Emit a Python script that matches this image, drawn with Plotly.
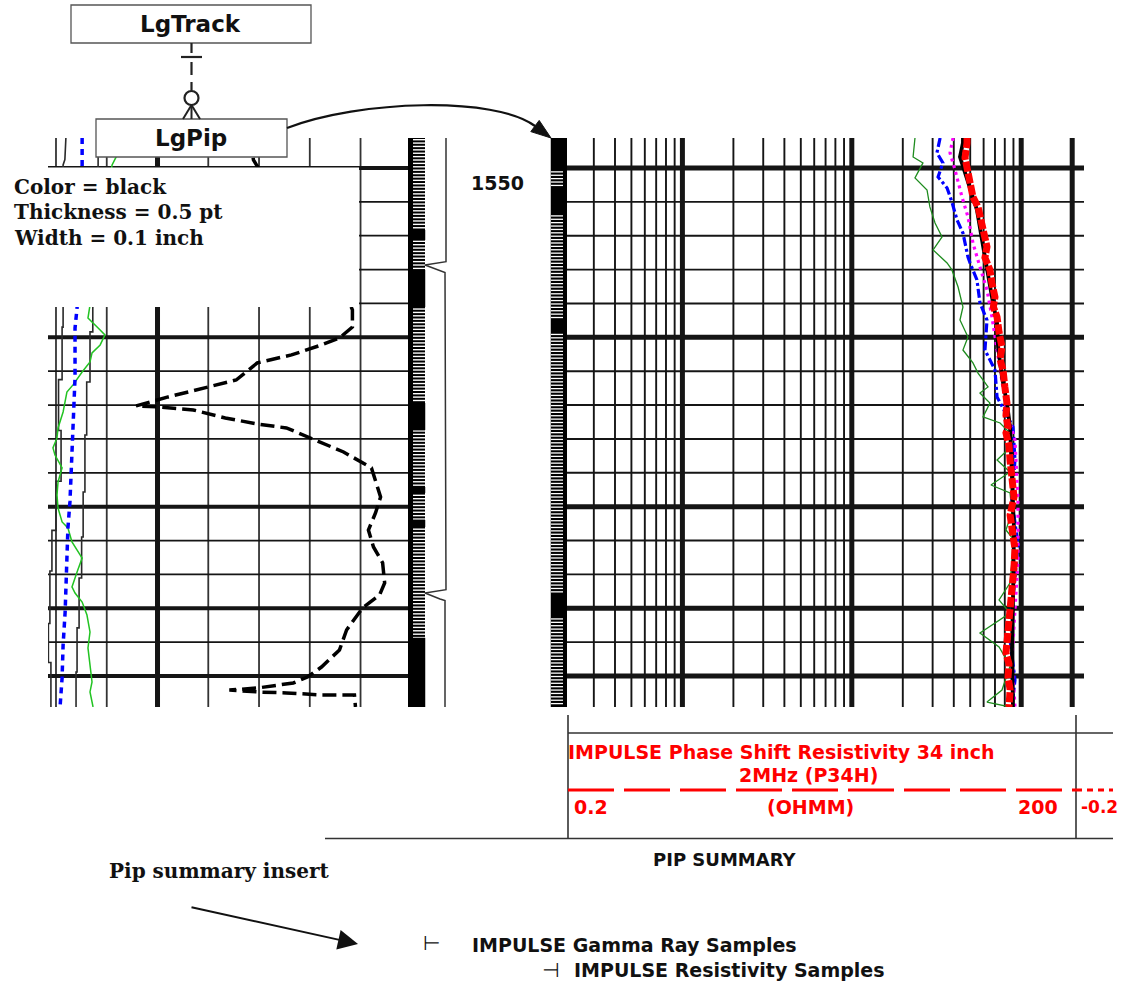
import numpy as np
import plotly.graph_objects as go

W, H = 1123, 993

# ---------------- data ----------------
DEPTH_TOP = 1548.23
DEPTH_BOT = 1581.83
DEPTH_GRID_MINOR = [1552, 1554, 1556, 1558, 1562, 1564, 1566, 1568, 1572, 1574, 1578]
DEPTH_GRID_MAJOR = [1550, 1560, 1570, 1576, 1580]
DEPTH_LABELS = [1550]

GR_GRID_MINOR = [20, 40, 80, 100, 120, 140]
GR_GRID_MAJOR = [60]
RES_GRID_MINOR = [0.3, 0.4, 0.5, 0.6, 0.7, 0.8, 0.9, 2, 3, 4, 5, 6, 7, 8, 9,
                  20, 30, 40, 50, 60, 70, 80, 90]
RES_GRID_MAJOR = [1, 10, 100, 200]

# track 1 (linear) curves
gr_dash_depth = [1548.23, 1549.53, 1553.0, 1556.0, 1558.38, 1559.39, 1560.04, 1560.45, 1561.04, 1561.51,
                 1562.52, 1562.93, 1563.52, 1563.82, 1564.05, 1564.11, 1564.29, 1564.76, 1565.12, 1565.35,
                 1566.06, 1566.77, 1567.71, 1568.42, 1569.43, 1570.37, 1571.38, 1572.38, 1573.32, 1574.51,
                 1575.21, 1575.98, 1577.28, 1578.46, 1579.47, 1580.06, 1580.41, 1580.71, 1580.83, 1580.95,
                 1581.00, 1581.12, 1581.12, 1581.83]
gr_dash_val = [96.6, 97.8, 112.0, 130.0, 136.8, 136.8, 131.7, 124.6, 112.8, 99.3,
               91.0, 79.6, 64.2, 57.1, 51.6, 59.9, 74.1, 86.7, 99.3, 110.8,
               121.8, 133.3, 144.3, 145.9, 147.9, 145.9, 143.1, 145.1, 148.7, 149.5,
               147.5, 140.8, 134.5, 131.7, 124.6, 119.1, 113.5, 99.3, 88.3, 100.5,
               110.8, 124.6, 137.6, 138.0]

gr_green_depth = [1548.23, 1549.23, 1549.82, 1558.27, 1558.86, 1559.39, 1559.86, 1560.45, 1560.92, 1561.46,
                  1562.05, 1562.81, 1563.23, 1564.41, 1565.35, 1565.94, 1566.53, 1566.95, 1567.71, 1568.54,
                  1569.31, 1570.08, 1570.90, 1571.26, 1572.08, 1572.85, 1573.03, 1573.86, 1574.74, 1575.10,
                  1575.63, 1576.40, 1577.40, 1578.34, 1579.35, 1580.35, 1580.94, 1581.83]
gr_green_val = [44.5, 44.1, 42.1, 33.4, 32.6, 36.2, 39.3, 37.4, 34.2, 33.4,
                30.3, 26.7, 24.3, 22.8, 20.8, 20.4, 18.8, 19.6, 22.4, 20.8,
                20.4, 20.8, 22.4, 24.7, 26.3, 29.5, 30.3, 28.3, 26.3, 27.5,
                30.3, 32.2, 33.4, 32.6, 33.4, 34.2, 33.4, 34.6]

gr_blue_depth = [1548.23, 1549.82, 1558.27, 1559.45, 1562.40, 1565.35, 1567.36, 1569.72, 1571.26, 1573.27,
                 1576.22, 1578.17, 1580.12, 1581.83]
gr_blue_val = [30.3, 30.3, 28.3, 27.5, 27.5, 26.7, 26.3, 25.5, 24.7, 24.3, 23.6, 22.8, 22.4, 21.6]

cal_a_depth = [1548.23, 1549.50, 1549.82, 1559.40, 1559.40, 1562.50, 1562.50, 1565.50, 1565.50, 1568.50,
               1568.50, 1571.40, 1571.40, 1573.80, 1573.80, 1576.90, 1576.90, 1579.20, 1579.20, 1581.83]
cal_a_val = [23.9, 23.5, 22.8, 22.8, 22.4, 22.4, 21.0, 21.0, 22.0, 22.0,
             20.0, 20.0, 18.4, 18.4, 17.6, 17.6, 17.0, 17.0, 18.0, 18.0]

cal_b_depth = [1548.23, 1549.82, 1558.33, 1559.68, 1559.68, 1562.64, 1562.64, 1565.77, 1565.77, 1569.13,
               1569.13, 1571.79, 1571.79, 1574.21, 1574.21, 1577.16, 1577.16, 1579.76, 1579.76, 1581.83]
cal_b_val = [36.6, 36.6, 34.5, 34.5, 33.4, 33.4, 32.1, 32.1, 31.4, 31.4,
             30.7, 30.7, 30.1, 30.1, 29.1, 29.1, 28.3, 28.3, 27.9, 27.9]

# track 2 (log resistivity, ohmm) curves
green_r_depth = [1548.23, 1549.35, 1549.70, 1550.59, 1551.30, 1552.30, 1553.25, 1554.07, 1554.84, 1555.61,
                 1556.02, 1557.03, 1558.21, 1558.98, 1559.98, 1560.75, 1561.51, 1562.11, 1562.93, 1563.29,
                 1563.88, 1564.70, 1565.06, 1565.65, 1566.40, 1567.24, 1567.95, 1568.72, 1569.19, 1570.30,
                 1571.38, 1571.97, 1573.20, 1574.50, 1575.51, 1576.28, 1577.46, 1578.28, 1579.40, 1580.83,
                 1581.54, 1581.83]
green_r_res = [23.6, 23.0, 26.3, 23.6, 27.8, 28.9, 31.0, 34.1, 30.2, 36.5,
               39.0, 42.4, 45.3, 43.5, 48.5, 45.3, 51.9, 55.6, 63.7, 57.1,
               65.4, 59.5, 75.0, 85.9, 88.2, 72.0, 85.9, 66.3, 85.9, 88.2,
               81.3, 90.7, 88.2, 86.0, 74.0, 85.9, 57.1, 74.0, 86.0, 77.0,
               62.8, 85.9]

blue_r_depth = [1548.23, 1549.11, 1549.70, 1550.53, 1551.18, 1552.01, 1553.07, 1553.84, 1555.26, 1555.61,
                1556.61, 1557.97, 1558.98, 1560.75, 1561.93, 1563.52, 1565.29, 1567.24, 1569.60, 1572.26,
                1575.51, 1577.87, 1580.23, 1581.83]
blue_r_res = [33.2, 31.8, 34.5, 32.3, 36.5, 39.0, 41.8, 45.3, 48.5, 49.9,
              54.8, 57.1, 62.8, 61.1, 70.0, 72.0, 89.4, 91.9, 88.2, 95.7,
              89.4, 85.9, 91.9, 88.2]

mag_r_depth = [1548.23, 1549.11, 1550.12, 1551.71, 1552.89, 1554.43, 1555.85, 1557.20, 1558.80, 1559.98,
               1561.93, 1564.47, 1566.06, 1569.60, 1573.15, 1576.10, 1579.05, 1581.83]
mag_r_res = [39.6, 38.0, 40.7, 44.7, 48.5, 51.9, 57.1, 62.8, 67.2, 70.0,
             75.0, 82.4, 91.9, 95.7, 95.7, 91.9, 88.2, 91.9]

blk_r_depth = [1548.23, 1548.52, 1549.35, 1550.89, 1552.48, 1554.25, 1556.02, 1557.62, 1559.15, 1560.57,
               1562.34, 1563.88, 1565.29, 1567.83, 1571.38, 1575.51, 1578.46, 1581.83]
blk_r_res = [45.3, 45.3, 43.5, 48.5, 54.8, 58.7, 62.8, 67.2, 72.0, 73.0,
             77.0, 82.4, 85.9, 88.2, 90.7, 89.4, 88.2, 89.4]

red_r_depth = [1548.23, 1548.52, 1549.40, 1550.12, 1550.90, 1551.71, 1552.30, 1552.89, 1553.80, 1554.66,
               1555.30, 1556.02, 1556.80, 1557.62, 1558.20, 1558.80, 1559.70, 1560.57, 1561.30, 1561.93,
               1562.90, 1563.88, 1564.60, 1565.29, 1565.65, 1566.40, 1567.24, 1568.30, 1569.43, 1570.50,
               1571.55, 1572.50, 1573.56, 1574.90, 1576.28, 1577.40, 1578.64, 1579.30, 1580.06, 1580.80,
               1581.42, 1581.83]
red_r_res = [47.9, 47.9, 46.6, 48.5, 50.5, 51.9, 55.6, 57.1, 59.5, 62.8,
             61.1, 65.4, 67.2, 70.0, 68.5, 72.0, 74.0, 77.0, 75.0, 78.1,
             80.0, 82.4, 81.3, 83.6, 81.3, 84.7, 85.9, 88.2, 90.7, 86.0,
             88.2, 91.9, 90.7, 88.2, 85.9, 83.6, 81.3, 84.7, 83.6, 86.0,
             85.9, 84.7]

# depth-track sample marks and pips
TICK_STEP = 0.2
LEFT_STRIP_SOLID = [(1553.66, 1554.25), (1556.02, 1558.21), (1563.88, 1565.47),
                    (1568.84, 1569.19), (1570.79, 1571.20), (1577.75, 1581.83)]
RIGHT_STRIP_SOLID = [(1548.23, 1550.12), (1551.12, 1552.66), (1558.86, 1559.74), (1575.21, 1576.57)]
PIP_DEPTHS = [1555.73, 1575.10]

# ---------------- helpers ----------------
def vgrid(vals, y0, y1):
    xs, ys = [], []
    for v in vals:
        xs += [v, v, None]
        ys += [y0, y1, None]
    return xs, ys


def hgrid(depths, x0, x1):
    xs, ys = [], []
    for d in depths:
        xs += [x0, x1, None]
        ys += [d, d, None]
    return xs, ys


fig = go.Figure()
GRID = "#151515"


def add(xs, ys, ax, color, width, dash="solid", fill=None, fillcolor=None):
    xa, ya = {1: ("x", "y"), 2: ("x2", "y2"), 3: ("x3", "y3")}[ax]
    fig.add_trace(go.Scatter(x=xs, y=ys, xaxis=xa, yaxis=ya, mode="lines",
                             line=dict(color=color, width=width, dash=dash),
                             fill=fill, fillcolor=fillcolor,
                             hoverinfo="skip", showlegend=False, connectgaps=False))


T1_RANGE = [16.85, 158.7]
LOG_R = [np.log10(0.2) + 3 / 169.4, np.log10(0.2) + 520 / 169.4]
R_LO, R_HI = 10 ** LOG_R[0], 10 ** LOG_R[1]

# track 1 grid
add(*vgrid(GR_GRID_MINOR, DEPTH_TOP, DEPTH_BOT), 1, "#333333", 1.8)
add(*vgrid(GR_GRID_MAJOR, DEPTH_TOP, DEPTH_BOT), 1, GRID, 5)
add(*hgrid(DEPTH_GRID_MINOR, T1_RANGE[0], T1_RANGE[1]), 1, GRID, 1.8)
add(*hgrid(DEPTH_GRID_MAJOR, T1_RANGE[0], T1_RANGE[1]), 1, GRID, 4)

# track 1 curves
add(cal_a_val, cal_a_depth, 1, "#2a2a2a", 1.6)
add(cal_b_val, cal_b_depth, 1, "#2a2a2a", 1.6)
add(gr_green_val, gr_green_depth, 1, "#22c322", 1.5)
add(gr_blue_val, gr_blue_depth, 1, "#0000ff", 3.5, "6px,5px")
add(gr_dash_val, gr_dash_depth, 1, "#000000", 3.5, "14px,6px")

# depth track: left sample strip
add([410.5, 410.5], [DEPTH_TOP, DEPTH_BOT], 2, "#000000", 5)
ticks = np.arange(DEPTH_TOP, DEPTH_BOT, TICK_STEP)
add(*hgrid(list(ticks), 413, 425), 2, "#000000", 2)
sx, sy = [], []
for d0, d1 in LEFT_STRIP_SOLID:
    sx += [408, 425, 425, 408, 408, None]
    sy += [d0, d0, d1, d1, d0, None]
add(sx, sy, 2, "#000000", 0.5, fill="toself", fillcolor="#000000")

# pip line
px, py = [446], [DEPTH_TOP]
for p in PIP_DEPTHS:
    px += [446, 425, 440, 445]
    py += [p - 0.2, p, p + 0.35, p + 0.45]
px.append(445)
py.append(DEPTH_BOT)
add(px, py, 2, "#333333", 1.5)

# right sample strip (black with white marks)
add([551, 567, 567, 551, 551], [DEPTH_TOP, DEPTH_TOP, DEPTH_BOT, DEPTH_BOT, DEPTH_TOP], 2,
    "#000000", 0.5, fill="toself", fillcolor="#000000")
rticks = [t for t in ticks if not any(a <= t <= b for a, b in RIGHT_STRIP_SOLID)]
add(*hgrid(rticks, 551, 563), 2, "#ffffff", 1.3)

# track 2 grid
add(*vgrid(RES_GRID_MINOR, DEPTH_TOP, DEPTH_BOT), 3, GRID, 1.9)
add(*vgrid(RES_GRID_MAJOR, DEPTH_TOP, DEPTH_BOT), 3, GRID, 5)
add(*hgrid(DEPTH_GRID_MINOR, R_LO, R_HI), 3, GRID, 1.9)
add(*hgrid(DEPTH_GRID_MAJOR, R_LO, R_HI), 3, GRID, 5)

# track 2 curves
add(green_r_res, green_r_depth, 3, "#1e8c1e", 1.3)
add(blue_r_res, blue_r_depth, 3, "#0000ff", 3.2, "9px,3px,3px,3px")
add(mag_r_res, mag_r_depth, 3, "#ff00ff", 3.2, "3px,4px")
add(blk_r_res, blk_r_depth, 3, "#000000", 3.8)
add(red_r_res, red_r_depth, 3, "#ff0000", 7, "10px,2px")

ydom = [1 - 707 / H, 1 - 138 / H]
ax_common = dict(visible=False, fixedrange=True, showgrid=False, zeroline=False)
fig.update_layout(
    width=W, height=H, margin=dict(l=0, r=0, t=0, b=0),
    paper_bgcolor="white", plot_bgcolor="rgba(0,0,0,0)", showlegend=False,
    xaxis=dict(domain=[48 / W, 408 / W], range=T1_RANGE, anchor="y", **ax_common),
    yaxis=dict(domain=ydom, range=[DEPTH_BOT, DEPTH_TOP], anchor="x", **ax_common),
    xaxis2=dict(domain=[408 / W, 567 / W], range=[408, 567], anchor="y2", **ax_common),
    yaxis2=dict(domain=ydom, range=[DEPTH_BOT, DEPTH_TOP], anchor="x2", **ax_common),
    xaxis3=dict(type="log", domain=[567 / W, 1084 / W], range=LOG_R, anchor="y3", **ax_common),
    yaxis3=dict(domain=ydom, range=[DEPTH_BOT, DEPTH_TOP], anchor="x3", **ax_common),
)

# ---------------- diagram overlays ----------------
shapes = []


def fxp(x):
    return x / W


def fyp(y):
    return 1 - y / H


def P(x, y):
    return f"{fxp(x):.5f},{fyp(y):.5f}"


def rect(x0, y0, x1, y1, lc="rgba(0,0,0,0)", lw=0, fill="white"):
    shapes.append(dict(type="rect", xref="paper", yref="paper", x0=fxp(x0), x1=fxp(x1),
                       y0=fyp(y1), y1=fyp(y0), line=dict(color=lc, width=lw),
                       fillcolor=fill, layer="above"))


def seg(x0, y0, x1, y1, color="#222222", w=2, dash="solid"):
    shapes.append(dict(type="line", xref="paper", yref="paper", x0=fxp(x0), y0=fyp(y0),
                       x1=fxp(x1), y1=fyp(y1), line=dict(color=color, width=w, dash=dash),
                       layer="above"))


# white note box and entity boxes
rect(0, 167.5, 359, 307)
rect(96, 119, 287, 157, "#555555", 1.3)
rect(71, 5, 311, 43, "#555555", 1.3)

# relation connector
seg(191.5, 43, 191.5, 53, w=2.2)
seg(181, 57, 202, 57, w=2.2)
seg(191.5, 62, 191.5, 75, w=2.2)
seg(191.5, 82, 191.5, 90.5, w=2.2)
shapes.append(dict(type="circle", xref="paper", yref="paper", x0=fxp(184.5), x1=fxp(198.5),
                   y0=fyp(105), y1=fyp(91), line=dict(color="#222222", width=2.2),
                   fillcolor="white", layer="above"))
seg(191.5, 105, 183, 119, w=2)
seg(191.5, 105, 191.5, 119, w=2)
seg(191.5, 105, 200, 119, w=2)

# curved arrow LgPip -> track
shapes.append(dict(type="path", xref="paper", yref="paper",
                   path=f"M {P(287, 128)} C {P(360, 100)} {P(495, 96)} {P(535, 126)}",
                   line=dict(color="#111111", width=2.2), layer="above"))
shapes.append(dict(type="path", xref="paper", yref="paper",
                   path=f"M {P(551, 138)} L {P(530.8, 131.6)} L {P(539.2, 120.4)} Z",
                   line=dict(color="#111111", width=1), fillcolor="#111111", layer="above"))

# header box lines
seg(568, 715, 568, 838, "#333333", 1.6)
seg(1076, 715, 1076, 838, "#333333", 1.6)
seg(568, 733, 1113, 733, "#333333", 1.6)
seg(325, 838.5, 1113, 838.5, "#333333", 1.6)
seg(568, 790, 1076, 790, "#ff0000", 3, "46px,10px")
seg(1076, 790, 1113, 790, "#ff0000", 3, "6px,5px")

fig.update_layout(shapes=shapes)

SANS = "DejaVu Sans"
SERIF = "DejaVu Serif"
ann = []


def text(x, y, s, size, family=SANS, color="#111111", anchor="center"):
    ann.append(dict(xref="paper", yref="paper", x=fxp(x), y=fyp(y), text=s, showarrow=False,
                    xanchor=anchor, yanchor="middle",
                    font=dict(family=family, size=size, color=color)))


text(191, 24, "<b>LgTrack</b>", 23)
text(191, 138, "<b>LgPip</b>", 23)
text(12, 187, "<b>Color = black</b>", 20, SERIF, anchor="left")
text(12, 212, "<b>Thickness = 0.5 pt</b>", 20, SERIF, anchor="left")
text(12, 238, "<b>Width = 0.1 inch</b>", 20, SERIF, anchor="left")

for d in DEPTH_LABELS:
    ann.append(dict(xref="x2", yref="y2", x=497, y=d, yshift=-15, text=f"<b>{d}</b>",
                    showarrow=False, xanchor="center", yanchor="middle",
                    font=dict(family=SANS, size=19, color="#111111")))

RED = "#ff0000"
text(566, 752, "<b>IMPULSE Phase Shift Resistivity 34 inch</b>", 19, color=RED, anchor="left")
text(808, 775, "<b>2MHz (P34H)</b>", 19, color=RED)
text(572, 807, "<b>0.2</b>", 19, color=RED, anchor="left")
text(810, 807, "<b>(OHMM)</b>", 19, color=RED)
text(1060, 807, "<b>200</b>", 19, color=RED, anchor="right")
text(1079, 807, "<b>-0.2</b>", 17, color=RED, anchor="left")
text(725, 859, "<b>PIP SUMMARY</b>", 18)
text(107, 871, "<b>Pip summary insert</b>", 20, SERIF, anchor="left")
text(431, 943, "⊢", 20)
text(470, 945, "<b>IMPULSE Gamma Ray Samples</b>", 19, anchor="left")
text(550, 970, "⊣", 20)
text(572, 970, "<b>IMPULSE Resistivity Samples</b>", 19, anchor="left")

ann.append(dict(xref="paper", yref="paper", x=fxp(358), y=fyp(944), ax=190 - 358, ay=907 - 944,
                axref="pixel", ayref="pixel", text="", showarrow=True, arrowhead=2,
                arrowsize=2, arrowwidth=2, arrowcolor="#111111"))

fig.update_layout(annotations=ann)
fig.write_html("out.html")
